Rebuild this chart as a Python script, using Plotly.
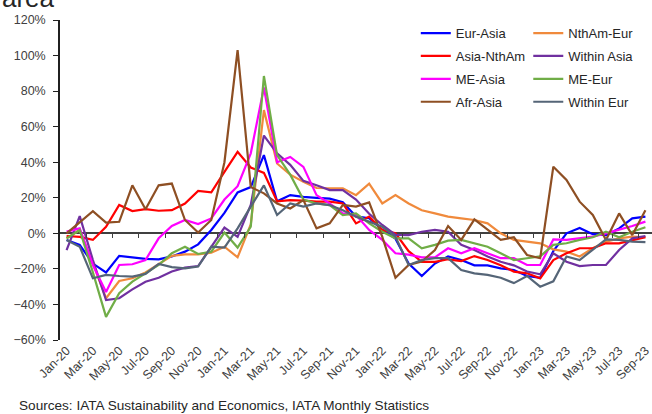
import plotly.graph_objects as go

months = ["Jan-20","Feb-20","Mar-20","Apr-20","May-20","Jun-20","Jul-20","Aug-20","Sep-20","Oct-20","Nov-20","Dec-20",
          "Jan-21","Feb-21","Mar-21","Apr-21","May-21","Jun-21","Jul-21","Aug-21","Sep-21","Oct-21","Nov-21","Dec-21",
          "Jan-22","Feb-22","Mar-22","Apr-22","May-22","Jun-22","Jul-22","Aug-22","Sep-22","Oct-22","Nov-22","Dec-22",
          "Jan-23","Feb-23","Mar-23","Apr-23","May-23","Jun-23","Jul-23","Aug-23","Sep-23"]

eur_asia = [-3.7,-6.5,-17,-22,-12.7,-13.6,-14.4,-14.6,-13,-10.3,-6.2,1.9,11.5,23,26,44,18,21.5,20.5,20,19.5,17.5,9.5,8.5,2,-3,
            -17,-24,-17,-13,-15,-18,-18,-19.7,-20.6,-24,-25,-10,0,3,-0.5,-1,2.8,8.4,9.4]
nth_eur = [-2.8,1.9,-17,-36.5,-26.8,-25.3,-22,-17.2,-12.7,-11.8,-11.8,-10.9,-7.5,-13.5,5,69.3,39.3,33,29,25.5,25.3,25.3,21.5,28,16.8,21.5,
           16.8,13,11.2,9.4,8.4,7.5,5.6,0,-3.7,-4.7,-5.6,-9,-10.3,-13,-8.4,-4.7,-2.8,-1.9,-2.2]
asia_nth = [-1.5,-2,-3.7,3.7,16,12.5,13.6,12.7,13,16.8,23.8,23,34.6,45.8,37,34,18,18.7,18.4,17.8,17.8,16.8,5.6,9.4,1.9,0,
            -10,-16,-16,-14.6,-15.6,-12.8,-15,-18,-21.5,-22.5,-25.3,-15,-11.2,-8.4,-8.4,-5.6,-5.6,-3.7,-2.2]
within_asia = [-9.4,9.7,-15,-37.5,-36.5,-31.5,-27.2,-25,-21.5,-19.3,-18.4,-7.5,3.2,-2,16,55,45,38.5,29.5,27,24.3,24.3,19,11,4.7,-0.9,
               -1,0.9,1.9,0.9,-6.5,-9.4,-13,-16,-18,-21.5,-23,-11.2,-16,-18.4,-17.8,-17.8,-9.4,-2.8,-1.5]
me_asia = [1,2.8,-17.8,-33,-17.8,-17.4,-15,-2.8,4.1,7.5,5.2,8.4,19,26.5,45,82,40,43,37.4,21.5,16.8,11.2,10.3,1.9,-3.7,-11.2,
           -12,-13.5,-13.5,-8.4,-11.2,-8.4,-11.2,-14,-14,-17.8,-17.8,-3.4,-3.7,-2.8,-1.9,0,1.9,4.1,6.6]
me_eur = [-2.8,1.9,-22,-47,-33.7,-27.2,-22.5,-17.8,-11.2,-7.5,-11.6,-10.3,0.4,-8,3.7,88.5,44,33,19,16.8,15.9,10.3,11.2,5.6,0.9,-2.8,
          -2.8,-8.4,-6.5,-4.1,-3.7,-5.6,-7.5,-11.2,-15,-14,-13,-6.5,-5.6,-3.7,-2.2,0.9,-2.2,0.9,3.4]
afr_asia = [0,6,12.5,6,6.5,27,13.5,27,28,7.5,0.5,7.5,40,103,26,22.5,16.8,14,18.7,2.8,5.6,16,15,17.4,-2,-25,
            -17.8,-15.9,-9.4,4.1,-3.7,7.9,1.9,-3.7,-2.2,-12.2,-14,37.5,30,17.8,10.3,-3.7,11.2,-1,13]
within_eur = [-3.7,-7.5,-25.3,-23.4,-24,-24.3,-22.8,-17.2,-19,-19.7,-18.7,-7.5,-8,2.8,15,27,10.3,16.8,15,16.8,15.9,13,9.4,6.6,3.7,-1.9,
              -17.8,-15,-14,-14,-20.6,-22.5,-23.4,-25,-28,-24,-30,-27,-13,-15,-9.4,-3.4,-3.7,-4.7,-5]

series = [
    ("Eur-Asia", eur_asia, "#0000FF", "legend"),
    ("NthAm-Eur", nth_eur, "#F08A3C", "legend2"),
    ("Asia-NthAm", asia_nth, "#FF0000", "legend"),
    ("Within Asia", within_asia, "#7030A0", "legend2"),
    ("ME-Asia", me_asia, "#FF00FF", "legend"),
    ("ME-Eur", me_eur, "#70AD47", "legend2"),
    ("Afr-Asia", afr_asia, "#8E4F23", "legend"),
    ("Within Eur", within_eur, "#556577", "legend2"),
]

x = list(range(len(months)))
fig = go.Figure()
for name, vals, color, lg in series:
    fig.add_trace(go.Scatter(x=x, y=vals, mode="lines", name=name, legend=lg,
                             legendgroup=name,
                             line=dict(color=color, width=2.2), hoverinfo="skip"))

# dummy trace for the zero-line tick axis
fig.add_trace(go.Scatter(x=[], y=[], xaxis="x2", showlegend=False, hoverinfo="skip"))

font_family = "Liberation Sans, Arial, sans-serif"
fig.update_layout(
    width=652, height=414,
    margin=dict(l=60, r=0, t=20, b=74, autoexpand=False),
    paper_bgcolor="white", plot_bgcolor="white",
    font=dict(family=font_family, size=12, color="#404040"),
    xaxis=dict(range=[-0.5, len(months) - 0.5], tickmode="array",
               tickvals=x[::2], ticktext=months[::2], tickangle=-45,
               showgrid=False, zeroline=False, showline=False, ticks="",
               automargin=False, ticklabeloverflow="allow",
               tickfont=dict(size=12.5, color="#404040")),
    xaxis2=dict(overlaying="x", anchor="free", position=60/180, side="bottom",
                range=[-0.5, len(months) - 0.5], tickmode="array",
                tickvals=[i + 1.5 for i in x[:-1:2]], showticklabels=False,
                ticks="outside", ticklen=4, tickcolor="#404040", tickwidth=1,
                automargin=False,
                showgrid=False, zeroline=False, showline=False),
    yaxis=dict(range=[-60, 120], dtick=20, ticksuffix="%", showgrid=False,
               zeroline=True, zerolinecolor="#404040", zerolinewidth=1.5,
               showline=True, linecolor="#202020", linewidth=1.5,
               ticks="outside", ticklen=5, tickcolor="#202020",
               ticklabelstandoff=5,
               automargin=False, ticklabeloverflow="allow",
               tickfont=dict(size=12.5, color="#404040")),
    legend=dict(x=0.601, y=1.006, xanchor="left", yanchor="top", bgcolor="rgba(0,0,0,0)",
                tracegroupgap=3, font=dict(size=13, color="#262626")),
    legend2=dict(x=0.791, y=1.006, xanchor="left", yanchor="top", bgcolor="rgba(0,0,0,0)",
                 tracegroupgap=3, font=dict(size=13, color="#262626")),
    annotations=[
        dict(text="Sources: IATA Sustainability and Economics, IATA Monthly Statistics",
             xref="paper", yref="paper", x=(17 - 60) / 592, y=(340 - 405.5) / 320,
             xanchor="left", yanchor="middle", showarrow=False,
             font=dict(size=13.6, color="#262626")),
        dict(text="area", xref="paper", yref="paper", x=-60 / 592, y=(340 - 15) / 320,
             xanchor="left", yanchor="bottom", showarrow=False,
             font=dict(size=26, color="#262626")),
    ],
)

fig.write_html("out.html", config={"displayModeBar": False},
               post_script="document.body.style.margin='0';")
